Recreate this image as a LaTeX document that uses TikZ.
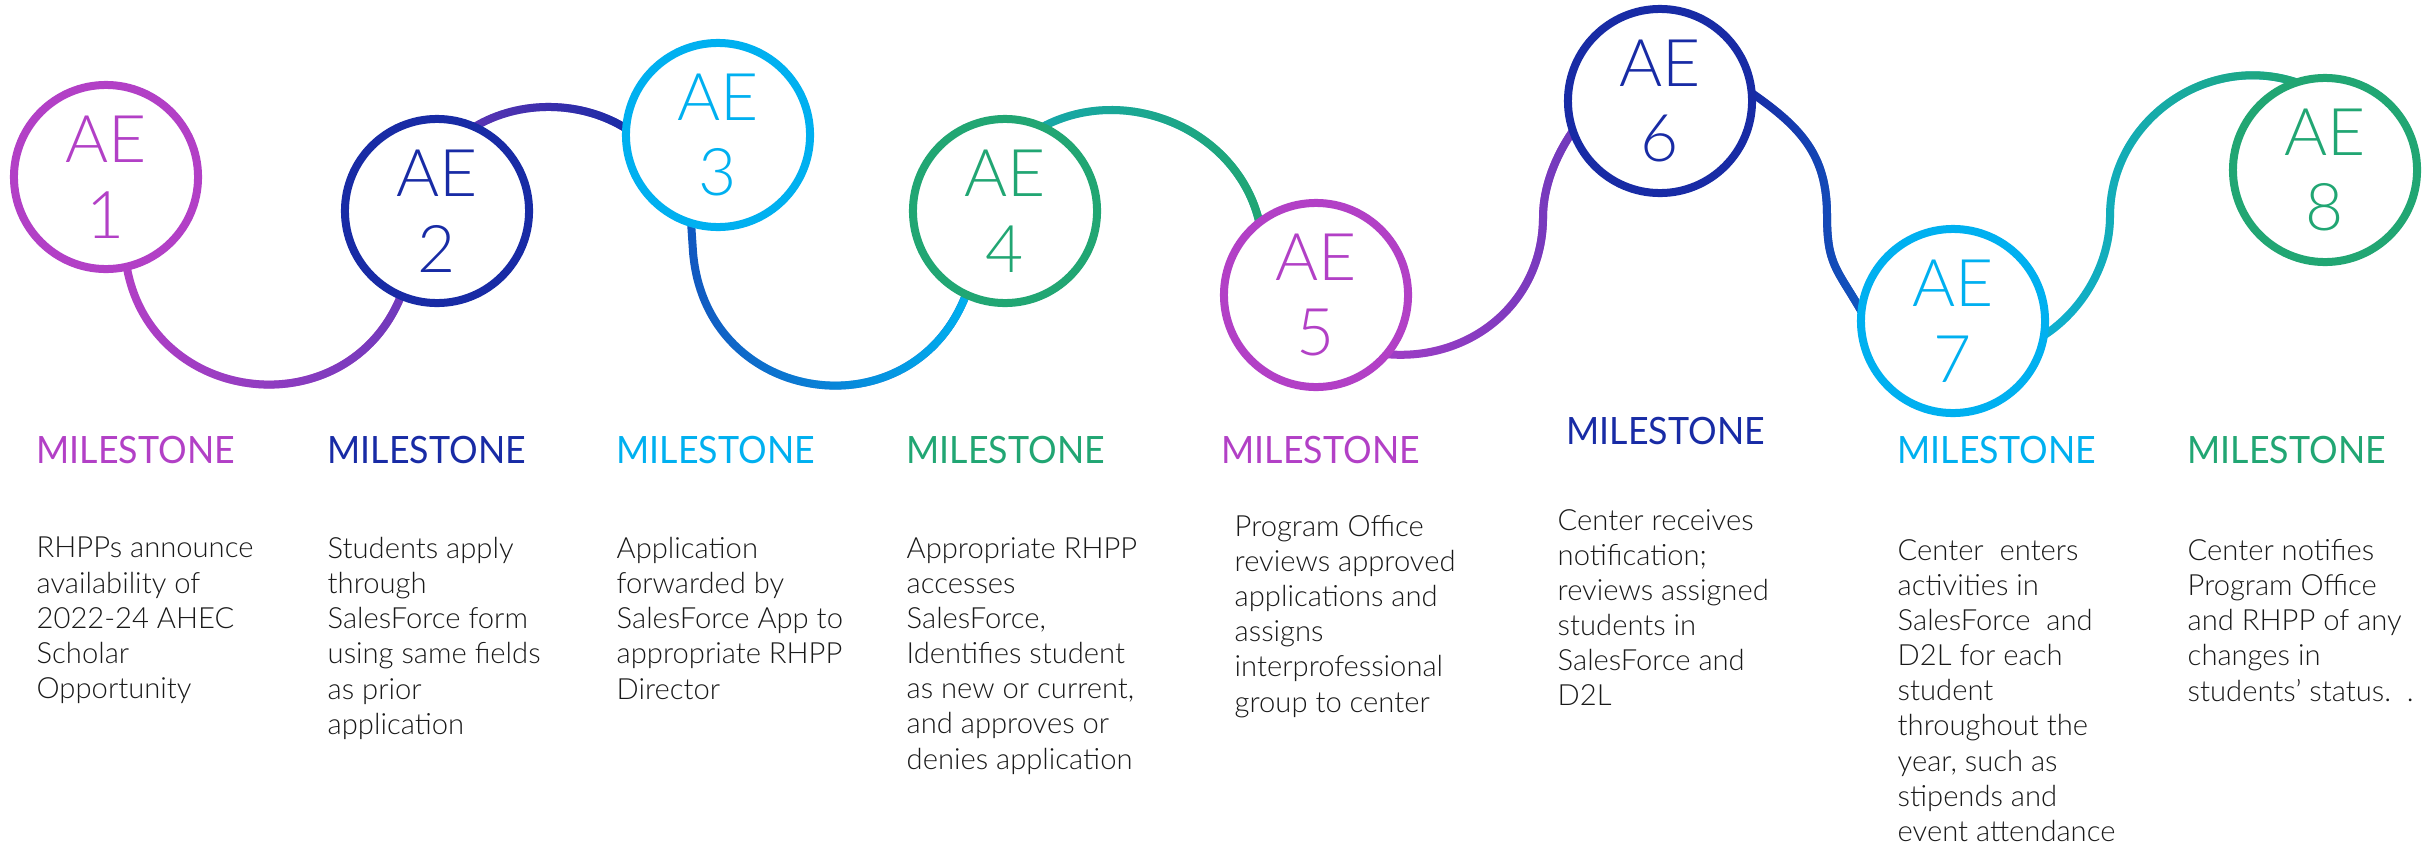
\documentclass[tikz,border=0pt]{standalone}
\usepackage{fontspec}
\setmainfont{Lato Light}
\newfontfamily\headfont{Lato}[FakeStretch=0.95]
\usetikzlibrary{positioning, backgrounds, fadings}
\definecolor{aeviolet}{RGB}{178, 64, 198}
\definecolor{aenavy}{RGB}{24, 43, 165}
\definecolor{aesky}{RGB}{0, 176, 240}
\definecolor{aegreen}{RGB}{33, 166, 115}
\definecolor{linkpurple}{RGB}{160, 62, 198}
\definecolor{linkviolet}{RGB}{112, 58, 188}
\definecolor{linkindigo}{RGB}{92, 52, 180}
\definecolor{linkblue}{RGB}{18, 88, 192}
\definecolor{linkteal}{RGB}{22, 168, 170}
\definecolor{linkcyan}{RGB}{14, 176, 212}
\tikzfading[name=fade in east, left color=transparent!100, right color=transparent!0]

\begin{document}
\begin{tikzpicture}[x=0.01cm, y=0.01cm,
    ring/.style={circle, draw=#1, fill=white, line width=0.8mm, minimum size=18.4mm, inner sep=0pt, outer sep=0pt, text=#1, align=center, font=\fontsize{18.7}{21.6}\selectfont},
    head/.style={anchor=west, inner sep=0pt, text=#1, font=\headfont\fontsize{10.7}{13}\selectfont},
    desc/.style={inner sep=0pt, align=left, text=black!90, font=\fontsize{8.3}{10}\selectfont},
    link/.style 2 args={line width=0.8mm, draw=#1, postaction={draw=#2, line width=0.8mm, path fading=fade in east}}
]
\useasboundingbox (0,0) rectangle (2433,-842);

% the eight steps
\node[ring=aeviolet] (ae1) at (106,-177) {AE\\1};
\node[ring=aenavy] (ae2) at (437,-211) {AE\\2};
\node[ring=aesky] (ae3) at (718,-135) {AE\\3};
\node[ring=aegreen] (ae4) at (1005,-211) {AE\\4};
\node[ring=aeviolet] (ae5) at (1316,-295) {AE\\5};
\node[ring=aenavy] (ae6) at (1660,-101) {AE\\6};
\node[ring=aesky] (ae7) at (1953,-321) {AE\\7};
\node[ring=aegreen] (ae8) at (2325,-170) {AE\\8};

% wavy line behind the rings
\coordinate (bend56) at (1543,-217);
\coordinate (bend67) at (1827,-215);
\coordinate (bend78) at (2110,-216);
\begin{scope}[on background layer]
\draw[link={aeviolet}{linkviolet}] (ae1.-77) .. controls +(-80:143) and +(-112:143) .. (ae2.-113);
\draw[link={linkindigo}{aenavy}] (ae2.66) .. controls +(31:53) and +(148:53) .. (ae3.176);
\draw[link={linkblue}{aesky}] (ae3.-107) -- ++(2,-30) .. controls +(-85:155) and +(-111:150) .. (ae4.-115);
\draw[link={linkteal}{aegreen}] (ae4.66) .. controls +(28:95) and +(103:95) .. (ae5.128);
\draw[link={linkpurple}{linkviolet}] (ae5.-40) .. controls +(-5:85) and +(-90:85) .. (bend56) .. controls +(90:30) and +(235:30) .. (ae6.199);
\draw[link={aenavy}{linkblue}] (ae6.5) .. controls +(-35:60) and +(90:60) .. (bend67) .. controls +(-90:50) and +(120:50) .. (ae7.174);
\draw[link={linkcyan}{aegreen}] (ae7.-9) .. controls +(33:47) and +(-90:47) .. (bend78) .. controls +(90:95) and +(161.6:95) .. (ae8.108);
\end{scope}

% milestone headings
\node[head=aeviolet] (m1) at (36,-450) {MILESTONE};
\node[head=aenavy] (m2) at (327,-450) {MILESTONE};
\node[head=aesky] (m3) at (616,-450) {MILESTONE};
\node[head=aegreen] (m4) at (906,-450) {MILESTONE};
\node[head=aeviolet] (m5) at (1221,-450) {MILESTONE};
\node[head=aenavy] (m6) at (1566,-431) {MILESTONE};
\node[head=aesky] (m7) at (1897,-450) {MILESTONE};
\node[head=aegreen] (m8) at (2187,-450) {MILESTONE};

% descriptions
\node[desc, below=0.72cm of m1.south west, anchor=north west] (t1) {RHPPs announce\\availability of\\2022-24 AHEC\\Scholar\\Opportunity};
\node[desc, below=0.72cm of m2.south west, anchor=north west] (t2) {Students apply\\through\\SalesForce form\\using same fields\\as prior\\application};
\node[desc, below=0.72cm of m3.south west, anchor=north west] (t3) {Application\\forwarded by\\SalesForce App to\\appropriate RHPP\\Director};
\node[desc, below=0.72cm of m4.south west, anchor=north west] (t4) {Appropriate RHPP\\accesses\\SalesForce,\\Identifies student\\as new or current,\\and approves or\\denies application};
\node[desc, below=0.5cm of m5.south west, anchor=north west, xshift=0.13cm] (t5) {Program Office\\reviews approved\\applications and\\assigns\\interprofessional\\group to center};
\node[desc, below=0.63cm of m6.south west, anchor=north west, xshift=-0.09cm] (t6) {Center receives\\notification;\\reviews assigned\\students in\\SalesForce and\\D2L};
\node[desc, below=0.74cm of m7.south west, anchor=north west] (t7) {Center~~enters\\activities in\\SalesForce~~and\\D2L for each\\student\\throughout the\\year, such as\\stipends and\\event attendance};
\node[desc, below=0.74cm of m8.south west, anchor=north west] (t8) {Center notifies\\Program Office\\and RHPP of any\\changes in\\students’ status.~~.};
\end{tikzpicture}
\end{document}
